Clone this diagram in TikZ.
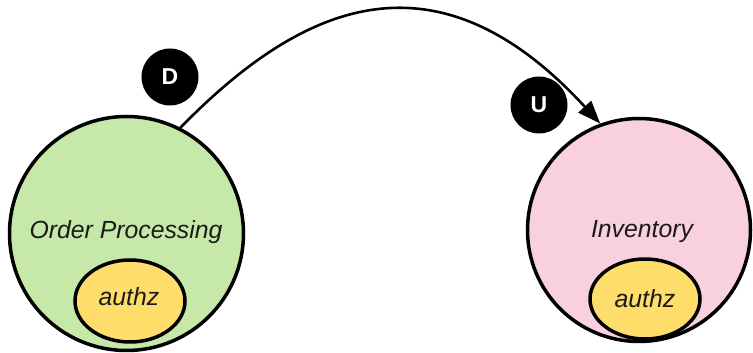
\documentclass[tikz,border=0pt]{standalone}
\usepackage{fontspec}
\setmainfont{Liberation Sans}
\usetikzlibrary{arrows.meta,shapes.geometric}
\definecolor{ctxgreen}{HTML}{C6E8A8}
\definecolor{ctxpink}{HTML}{F9D0DE}
\definecolor{ctxyellow}{HTML}{FFDD6A}
\definecolor{txtgray}{HTML}{1A1A1A}
\tikzset{
  ctx/.style={circle, draw=black, line width=3.5pt, minimum size=#1, inner sep=0pt},
  sub/.style={ellipse, draw=black, fill=ctxyellow, line width=3.5pt, minimum width=110pt, minimum height=82pt, inner sep=0pt},
  lbl/.style={font=\fontsize{24.8}{28}\selectfont\itshape, text=txtgray},
  badge/.style={circle, fill=black, minimum size=57pt, inner sep=0pt, text=white, font=\fontsize{23}{26}\selectfont\bfseries},
  rel/.style={line width=2.6pt, -{Triangle[length=23pt,width=17pt]}}
}
\begin{document}
\begin{tikzpicture}[x=1pt,y=1pt]
\useasboundingbox (0,0) rectangle (753,353);
\node[ctx=234pt, fill=ctxgreen] (op) at (126.5,119.5) {};
\node[ctx=223pt, fill=ctxpink] (inv) at (639,123) {};
\node[sub] (a1) at (130,52) {};
\node[sub, minimum height=80pt] (a2) at (645,54) {};
\node[lbl] (opl) at (126,121) {Order Processing};
\node[lbl] (invl) at (642,121) {Inventory};
\node[lbl] (a1l) at (129,56) {authz};
\node[lbl] (a2l) at (645,54) {authz};
\node[badge] (d) at (170,276) {D};
\node[badge] (u) at (539,248) {U};
\draw[rel] (op.63.8) .. controls (303.6,351.6) and (437,407) .. (inv.110.4);
\end{tikzpicture}
\end{document}
